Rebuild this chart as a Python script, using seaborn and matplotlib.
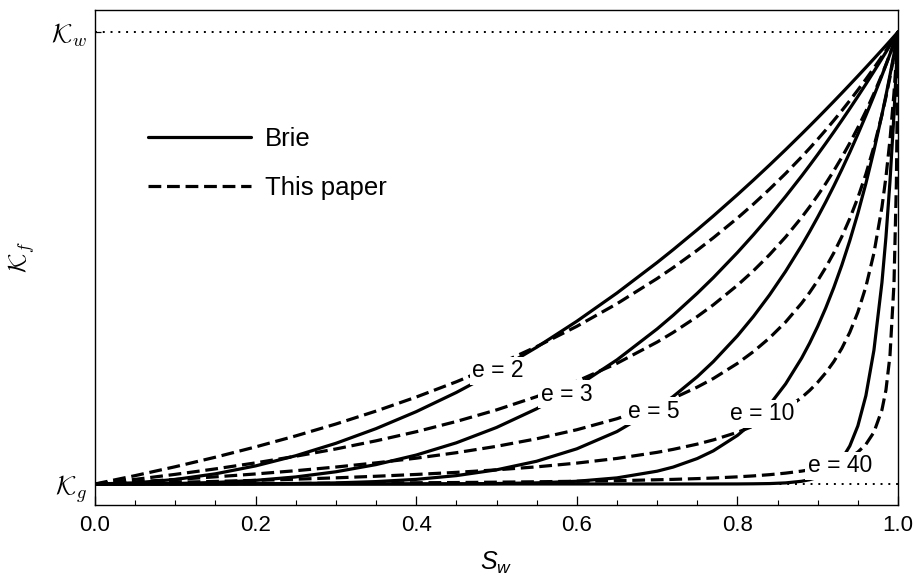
import numpy as np
import pandas as pd
import seaborn as sns
import matplotlib.pyplot as plt
from matplotlib.lines import Line2D
from matplotlib.ticker import MultipleLocator

sns.set_style("ticks")
plt.rcParams["font.family"] = ["Liberation Sans", "DejaVu Sans"]
plt.rcParams["mathtext.fontset"] = "cm"
plt.rcParams["mathtext.rm"] = "Liberation Sans"
plt.rcParams["mathtext.it"] = "Liberation Sans:italic"
for key in ("text.color", "axes.labelcolor", "xtick.color", "ytick.color", "axes.edgecolor"):
    plt.rcParams[key] = "k"

# water saturation grid (values at these points)
sw = [0, .05, .1, .15, .2, .25, .3, .35, .4, .45, .5, .55, .6, .65, .7, .72, .75, .77,
      .8, .82, .84, .86, .88, .89, .9, .91, .92, .93, .94, .95, .96, .97, .98, .985,
      .99, .995, .998, 1]

# normalised fluid modulus, 0 = K_g, 1 = K_w
brie_2 = [0, .0025, .01, .0225, .04, .0625, .09, .1225, .16, .2025, .25, .3025, .36,
          .4225, .49, .5184, .5625, .5929, .64, .6724, .7056, .7396, .7744, .7921, .81,
          .8281, .8464, .8649, .8836, .9025, .9216, .9409, .9604, .9702, .9801, .99,
          .996, 1]
brie_3 = [0, .0001, .001, .0034, .008, .0156, .027, .0429, .064, .0911, .125, .1664,
          .216, .2746, .343, .3732, .4219, .4565, .512, .5514, .5927, .6361, .6815,
          .705, .729, .7536, .7787, .8044, .8306, .8574, .8847, .9127, .9412, .9557,
          .9703, .9851, .994, 1]
brie_5 = [0, 0, .00001, .00008, .0003, .001, .0024, .0053, .0102, .0185, .0313, .0503,
          .0778, .116, .1681, .1935, .2373, .2707, .3277, .3707, .4182, .4704, .5277,
          .5584, .5905, .624, .6591, .6957, .7339, .7738, .8154, .8587, .9039, .9272,
          .951, .9753, .99, 1]
brie_10 = [0, 0, 0, 0, 0, 0, .00001, .00003, .0001, .0003, .001, .0025, .006, .0135,
           .0283, .0374, .0563, .0733, .1074, .1375, .1749, .2213, .2785, .3118, .3487,
           .3894, .4344, .484, .5386, .5987, .6648, .7374, .8171, .8597, .9044, .9511,
           .9802, 1]
brie_40 = [0, 0, 0, 0, 0, 0, 0, 0, 0, 0, 0, 0, 0, 0, 0, 0, .00001, .00003, .0001,
           .0004, .0009, .0024, .006, .0095, .0148, .023, .0356, .0549, .0842, .1285,
           .1954, .2957, .4457, .5463, .669, .8183, .923, 1]

paper_2 = [0, .0185, .0382, .0593, .082, .1064, .1327, .1613, .1923, .2261, .2632,
           .3039, .3488, .3988, .4545, .4787, .5172, .5446, .5882, .6193, .6522, .6869,
           .7237, .7429, .7627, .7831, .8042, .8259, .8484, .8716, .8955, .9203, .9459,
           .9591, .9725, .9861, .9944, 1]
paper_3 = [0, .0102, .0213, .0334, .0467, .0614, .0775, .0955, .1156, .1383, .1639,
           .1933, .2273, .2669, .3139, .3352, .3704, .3963, .4396, .4718, .5072, .5464,
           .5898, .6134, .6383, .6647, .6928, .7226, .7544, .7884, .8247, .8638, .9057,
           .9279, .951, .975, .9899, 1]
paper_5 = [0, .0048, .01, .0158, .0222, .0294, .0375, .0467, .0571, .0692, .0833, .1,
           .12, .1444, .175, .1895, .2143, .2333, .2667, .2929, .3231, .3583, .4, .4238,
           .45, .479, .5111, .5471, .5875, .6333, .6857, .7462, .8167, .8565, .9, .9476,
           .9784, 1]
paper_10 = [0, .0017, .0036, .0057, .008, .0106, .0136, .0171, .0211, .0257, .0313,
            .0379, .0462, .0565, .07, .0766, .0882, .0975, .1143, .1281, .1448, .1654,
            .1913, .207, .225, .246, .2706, .3, .3357, .38, .4364, .5105, .6125, .6793,
            .7615, .8652, .9415, 1]
paper_40 = [0, .0002, .0004, .0007, .001, .0013, .0017, .0021, .0027, .0032, .004,
            .0049, .006, .0073, .0093, .0102, .0119, .0132, .0158, .0179, .0206, .024,
            .0285, .0314, .0348, .0389, .044, .0505, .059, .0706, .0876, .1145, .1639,
            .208, .2837, .4432, .6662, 1]

exponents = [2, 3, 5, 10, 40]
brie = [brie_2, brie_3, brie_5, brie_10, brie_40]
paper = [paper_2, paper_3, paper_5, paper_10, paper_40]

# where the inline "e = .." labels sit (S_w, K)
label_sw = [0.502, 0.587, 0.696, 0.831, 0.928]
label_k = [0.25, 0.199, 0.161, 0.155, 0.04]

rows = []
for e, b, p in zip(exponents, brie, paper):
    for s, kb, kp in zip(sw, b, p):
        rows.append({"S": s, "K": kb, "e": e, "model": "Brie"})
        rows.append({"S": s, "K": kp, "e": e, "model": "This paper"})
df = pd.DataFrame(rows)

fig = plt.figure(figsize=(9.17, 5.83), dpi=100)
ax = fig.add_axes([95 / 917, 1 - 505 / 583, 803 / 917, 495 / 583])

dash = (4, 1.8)
sns.lineplot(data=df, x="S", y="K", units="e", style="model", estimator=None,
             dashes={"Brie": "", "This paper": dash}, color="k", lw=2.3,
             legend=False, ax=ax, zorder=2)

ax.axhline(0, color="k", ls=(0, (1, 3)), lw=1.4, zorder=1)
ax.axhline(1, color="k", ls=(0, (1, 3)), lw=1.4, zorder=1)

for e, xs, ys in zip(exponents, label_sw, label_k):
    ax.text(xs, ys, f"e = {e}", fontsize=16.5, ha="center", va="center", zorder=4,
            bbox=dict(boxstyle="square,pad=0.12", fc="white", ec="none"))

ax.set_xlim(0, 1)
ax.set_ylim(-0.0465, 1.0487)
ax.xaxis.set_minor_locator(MultipleLocator(0.05))
ax.set_xticks([0, 0.2, 0.4, 0.6, 0.8, 1.0], ["0.0", "0.2", "0.4", "0.6", "0.8", "1.0"])
ax.set_yticks([0, 1], [r"$\mathcal{K}_g$", r"$\mathcal{K}_w$"])
ax.tick_params(axis="x", which="major", direction="in", length=6.5, width=0.9,
               labelsize=16, pad=7)
ax.tick_params(axis="x", which="minor", direction="in", length=3.5, width=0.8)
ax.tick_params(axis="y", direction="in", length=4, width=0.9, labelsize=19, pad=6)
for sp in ax.spines.values():
    sp.set_linewidth(1.0)

ax.set_xlabel(r"$S_w$", fontsize=18, labelpad=10, math_fontfamily="custom")
ax.set_ylabel(r"$\mathcal{K}_f$", fontsize=18, labelpad=10)

handles = [Line2D([], [], color="k", lw=2.3),
           Line2D([], [], color="k", lw=2.3, ls=(0, dash))]
ax.legend(handles, ["Brie", "This paper"], loc="upper left", frameon=False,
          bbox_to_anchor=(0.037, 0.81), fontsize=18.5, handlelength=4.0,
          handletextpad=0.55, labelspacing=0.95)

fig.savefig("out.png", dpi=100)
